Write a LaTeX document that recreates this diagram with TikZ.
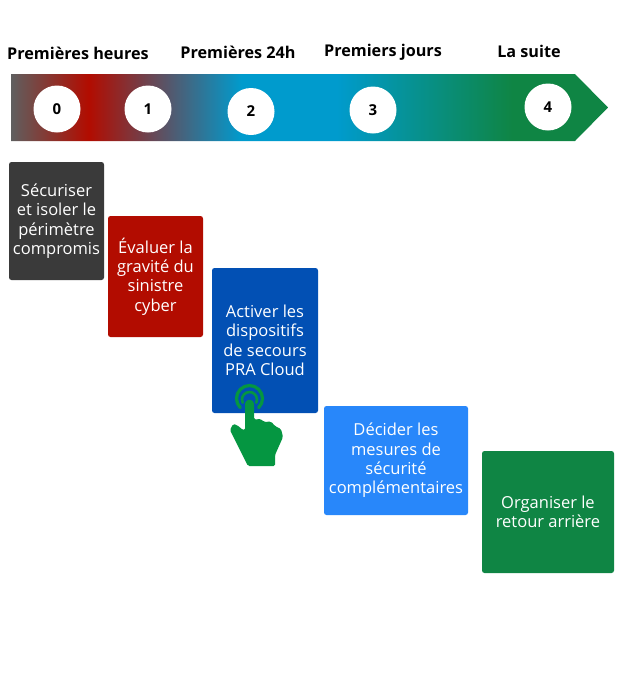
\documentclass[tikz,border=0pt]{standalone}
\usepackage{fontspec}
\setmainfont{Open Sans}
\usepackage{xcolor}
\definecolor{darkstep}{RGB}{58,58,58}
\definecolor{redstep}{RGB}{178,12,0}
\definecolor{bluestep}{RGB}{2,80,180}
\definecolor{skystep}{RGB}{40,135,250}
\definecolor{greenstep}{RGB}{15,133,68}
\definecolor{handgreen}{RGB}{5,150,65}
\definecolor{railgray}{RGB}{95,95,95}
\definecolor{railblue}{RGB}{0,155,205}
\pgfdeclarehorizontalshading{railshade}{100bp}{
  color(0bp)=(railgray); color(25bp)=(railgray); color(31.5bp)=(redstep);
  color(44.3bp)=(railblue); color(52.3bp)=(railblue);
  color(67bp)=(greenstep); color(100bp)=(greenstep)}
\tikzset{
  stepbox/.style = {rounded corners=2.5pt,align=center,text=white,inner sep=0pt,
                    font=\fontsize{16.5}{19.4}\selectfont},
  phase/.style   = {font=\fontsize{16.2}{18}\selectfont\bfseries,inner sep=0pt},
  num/.style     = {circle,fill=white,minimum size=47pt,inner sep=0pt,
                    font=\fontsize{15}{18}\selectfont\bfseries},
}
\begin{document}
\begin{tikzpicture}[x=1pt,y=-1pt]
  \useasboundingbox (0,0) rectangle (622,681);
  % timeline
  \shade[shading=railshade] (11,74) -- (575,74) -- (608,107.5) -- (575,141) -- (11,141) -- cycle;
  \node[phase] (ph0) at (78,53) {Premières heures};
  \node[phase] (ph1) at (238,52.5) {Premières 24h};
  \node[phase] (ph2) at (383,52.5) {Premiers jours};
  \node[phase] (ph3) at (529,51.5) {La suite};
  \foreach \i/\x/\y in {0/57/109,1/148/109,2/251/111.5,3/373/110,4/548/107}{
    \node[num] (n\i) at (\x,\y) {\i};
  }
  % steps
  \node[stepbox,fill=darkstep,minimum width=95pt,minimum height=118pt] (s0) at (56.5,221)
       {Sécuriser\\et isoler le\\périmètre\\compromis};
  \node[stepbox,fill=redstep,minimum width=95pt,minimum height=121pt] (s1) at (155.5,276.5)
       {Évaluer la\\gravité du\\sinistre\\cyber};
  \node[stepbox,fill=bluestep,minimum width=106pt,minimum height=145pt] (s2) at (265,340.5)
       {Activer les\\dispositifs\\de secours\\PRA Cloud};
  \node[stepbox,fill=skystep,minimum width=144pt,minimum height=109pt] (s3) at (396,460.5)
       {Décider les\\mesures de\\sécurité\\complémentaires};
  \node[stepbox,fill=greenstep,minimum width=132pt,minimum height=122pt] (s4) at (548,512)
       {Organiser le\\retour arrière};
  % hand
  \draw[handgreen,line width=3.2pt,line cap=round] (240.3,407.7) arc[start angle=225,end angle=-45,radius=13pt];
  \draw[handgreen,line width=2.6pt,line cap=round] (242.7,402.7) arc[start angle=205,end angle=-25,radius=7.5pt];
  \fill[handgreen,rounded corners=1.5pt] (249.5,399) -- (254,402) -- (254,419.5) -- (261,419)
    -- (264,422) -- (271,421.5) -- (275,426) -- (281,429) -- (283,437) -- (275,455)
    -- (275,466) -- (248,466) -- (230,430) -- (233,424) -- (237,425) -- (243,430)
    -- (245,430) -- (245,402) -- cycle;
\end{tikzpicture}
\end{document}
